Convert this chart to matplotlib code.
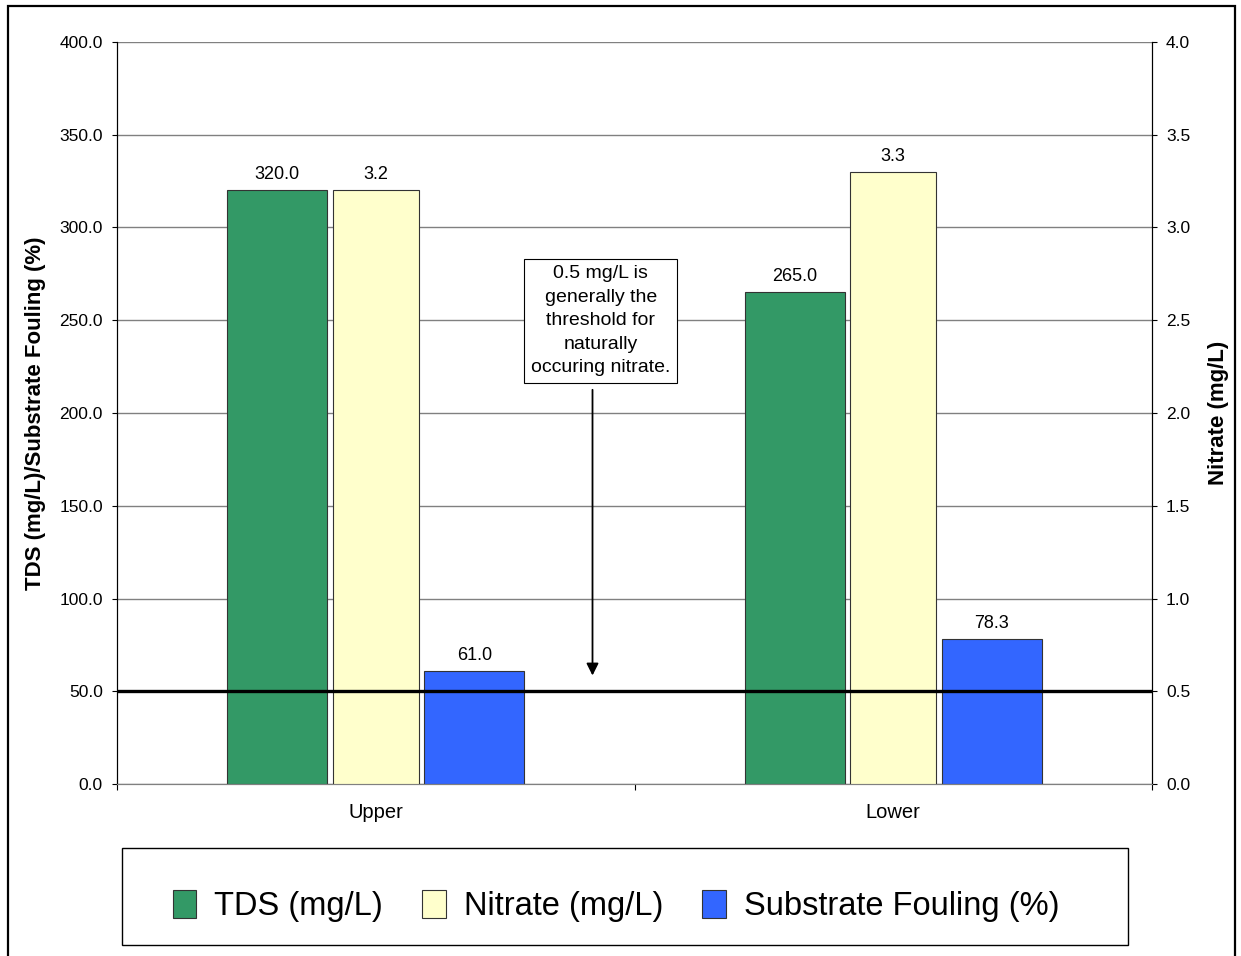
import matplotlib.pyplot as plt
import matplotlib.patches as mpatches
import numpy as np

plt.rcParams['font.family'] = ['Liberation Sans', 'DejaVu Sans']

# data
sites = ['Upper', 'Lower']
tds = [320.0, 265.0]
nitrate = [3.2, 3.3]
fouling = [61.0, 78.3]
threshold = 0.5  # mg/L nitrate

c_tds = '#339966'
c_nit = '#FFFFCC'
c_foul = '#3366FF'

fig = plt.figure(figsize=(12.41, 9.56), dpi=100)
ax = fig.add_axes([0.0943, 0.1799, 0.834, 0.7762])
ax2 = ax.twinx()

x = np.arange(len(sites))
w1 = 0.1934
w2 = 0.166
off = 0.1905

b1 = ax.bar(x - off, tds, w1, color=c_tds, edgecolor='#333333', linewidth=0.8, zorder=3)
b3 = ax.bar(x + off, fouling, w1, color=c_foul, edgecolor='#333333', linewidth=0.8, zorder=3)
b2 = ax2.bar(x, nitrate, w2, color=c_nit, edgecolor='#333333', linewidth=0.8, zorder=3)

ax.bar_label(b1, fmt='%.1f', padding=5, fontsize=13)
ax.bar_label(b3, fmt='%.1f', padding=5, fontsize=13)
ax2.bar_label(b2, fmt='%.1f', padding=5, fontsize=13)

# threshold line
ax2.axhline(threshold, color='black', linewidth=2.4, zorder=5)

ax.set_xlim(-0.5, 1.5)
ax.set_ylim(0, 400)
ax2.set_ylim(0, 4)
ax.set_yticks(np.arange(0, 401, 50))
ax.set_yticklabels(['%.1f' % v for v in np.arange(0, 401, 50)])
ax2.set_yticks(np.arange(0, 4.01, 0.5))
ax2.set_yticklabels(['%.1f' % v for v in np.arange(0, 4.01, 0.5)])

ax.yaxis.grid(True, color='#808080', linewidth=1.0, zorder=0)
ax.set_axisbelow(True)

ax.set_xticks([-0.5, 0.5, 1.5])
ax.set_xticklabels([])
ax.set_xticks(x, minor=True)
ax.set_xticklabels(sites, minor=True, fontsize=14.5)
ax.tick_params(axis='x', which='major', length=4.3, direction='out', color='black')
ax.tick_params(axis='x', which='minor', length=0, pad=14)
ax.tick_params(axis='y', length=3.6, pad=6.5, labelsize=12.5)
ax2.tick_params(axis='y', length=3.6, pad=6.5, labelsize=12.5)

for a in (ax, ax2):
    a.spines['top'].set_visible(False)
    a.spines['bottom'].set_color('#808080')
    a.spines['left'].set_color('black')
    a.spines['right'].set_color('black')

ax.set_ylabel('TDS (mg/L)/Substrate Fouling (%)', fontsize=16, fontweight='bold', va='center')
ax.yaxis.set_label_coords(-0.0783, 0.5)
ax2.set_ylabel('Nitrate (mg/L)', fontsize=16, fontweight='bold', va='center')
ax2.yaxis.set_label_coords(1.0638, 0.5)

# annotation
note = '0.5 mg/L is\ngenerally the\nthreshold for\nnaturally\noccuring nitrate.'
ax.text(0.435, 249.6, note, ha='center', va='center', fontsize=14, linespacing=1.5,
        bbox=dict(boxstyle='square,pad=0.35', facecolor='white', edgecolor='black', linewidth=0.8),
        zorder=6)
ax.annotate('', xy=(0.4188, 57), xytext=(0.4188, 214),
            arrowprops=dict(arrowstyle='-|>', color='black', lw=1.3, mutation_scale=18),
            zorder=6)

# legend box
fig.patches.append(mpatches.Rectangle((122 / 1241, 1 - 945 / 956), 1006 / 1241, 97 / 956,
                                      transform=fig.transFigure, facecolor='white',
                                      edgecolor='black', linewidth=1.0))
handles = [mpatches.Patch(facecolor=c, edgecolor='#333333', linewidth=0.8)
           for c in (c_tds, c_nit, c_foul)]
fig.legend(handles, ['TDS (mg/L)', 'Nitrate (mg/L)', 'Substrate Fouling (%)'],
           loc='center', bbox_to_anchor=(616 / 1241, 1 - 906 / 956), ncol=3,
           frameon=False, fontsize=23.5, handlelength=0.72, handleheight=0.95,
           handletextpad=0.55, columnspacing=1.2)

# outer border
fig.patches.append(mpatches.Rectangle((8 / 1241, -0.01), 1227 / 1241, 1 - 6 / 956 + 0.01,
                                      transform=fig.transFigure, fill=False,
                                      edgecolor='black', linewidth=1.6))

fig.savefig('out.png', dpi=100)
